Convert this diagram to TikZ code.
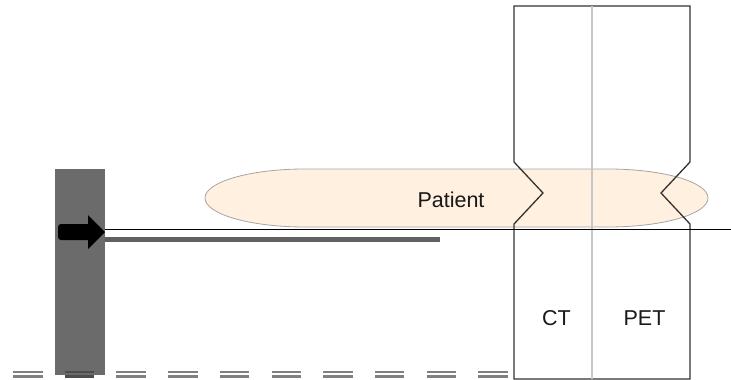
\documentclass[tikz,border=0pt]{standalone}
\usepackage{fontspec}
\setmainfont{Liberation Sans}
\begin{document}
\begin{tikzpicture}[x=1pt,y=-1pt,
  label/.style={font=\fontsize{21.5}{24}\selectfont, text=black!90, inner sep=0pt},
  gantry/.style={draw=black!80, line width=1.3pt, line join=miter},
  railstripe/.style={draw=black!50, line width=2.4pt},
]
\useasboundingbox (0,0) rectangle (731,380);

% patient body: flat-sided capsule with elliptical ends
\filldraw[fill=orange!12!white, draw=black!35, line width=0.8pt]
  (305,169) -- (608,169) arc[start angle=-90, end angle=90, x radius=100, y radius=29]
  -- (305,227) arc[start angle=90, end angle=270, x radius=100, y radius=29] -- cycle;
\node[label] (patient) at (451,200) {Patient};

% support pillar
\fill[black!58] (55,169) rectangle (105,375);

% floor rail, double-stroked dashes
\foreach \i in {0,...,9}{
  \pgfmathsetmacro{\xa}{13+51.7*\i}
  \pgfmathsetmacro{\xb}{\xa+29.5}
  \ifnum\i=1
    \draw[railstripe, draw=black!70] (\xa,372) -- (\xb,372);
    \draw[railstripe, draw=black!70] (\xa,376.5) -- (\xb,376.5);
  \else
    \draw[railstripe] (\xa,372) -- (\xb,372);
    \draw[railstripe] (\xa,376.5) -- (\xb,376.5);
  \fi
}

% couch travel arrow
\fill[black] (88,224) -- (88,215) -- (105,232) -- (88,249) -- (88,240)
  [rounded corners=3pt] -- (58,240) -- (58,224) [sharp corners] -- cycle;

% couch: table line and its slide bar
\coordinate (tableStart) at (105,229.5);
\coordinate (tableEnd) at (731,229.5);
\fill[black!62] (105,237) rectangle (440,242);

% CT / PET gantry outline with bore notches
\draw[gantry] (514,224) -- (543,193) -- (514,162) -- (514,6) -- (690,6) -- (690,162)
  -- (661,193) -- (690,224) -- (690,379) -- (514,379) -- cycle;

% divider between the two scanners
\draw[black!22, line width=1.8pt] (592,6) -- (592,379);

\draw[black, line width=1.7pt] (tableStart) -- (tableEnd);

\node[label] (ct) at (556.5,318) {CT};
\node[label] (pet) at (644.5,318) {PET};
\end{tikzpicture}
\end{document}
